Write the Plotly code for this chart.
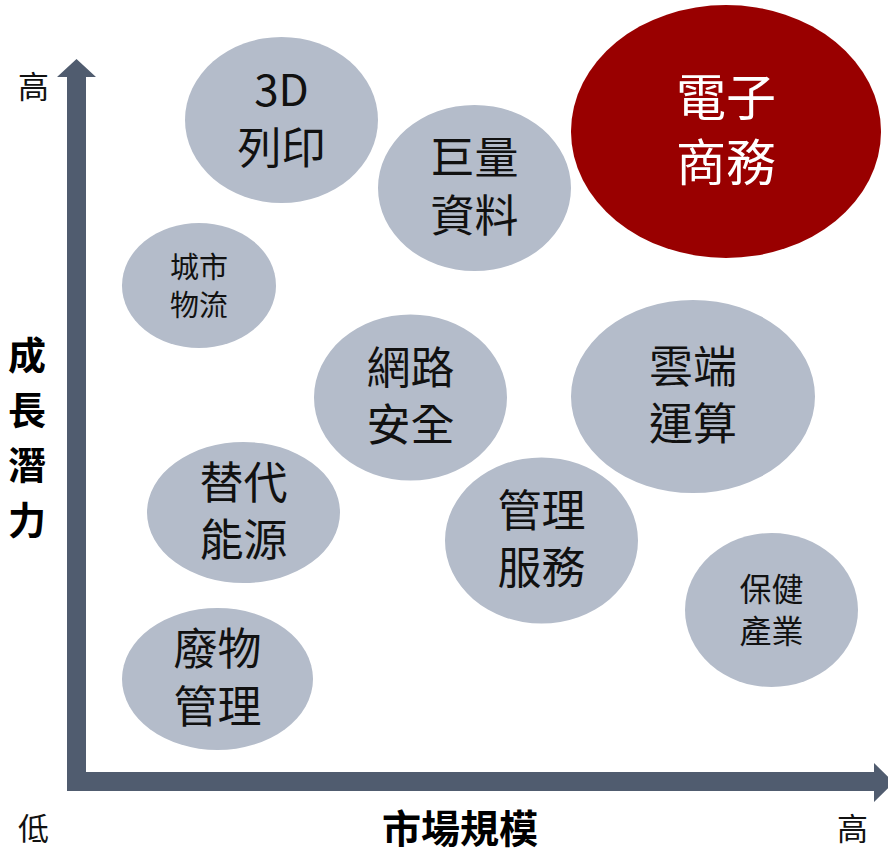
import plotly.graph_objects as go

# ---- data (market size score on x, growth potential score on y) ----
labels = ["3D<br>列印", "巨量<br>資料", "電子<br>商務", "城市<br>物流", "網路<br>安全",
          "雲端<br>運算", "替代<br>能源", "管理<br>服務", "保健<br>產業", "廢物<br>管理"]
market_size = [281.5, 474.5, 726.0, 199.0, 410.5, 693.0, 243.5, 541.5, 771.5, 217.5]
growth_potential = [728.0, 660.0, 716.5, 562.5, 450.5, 451.5, 335.5, 307.5, 238.0, 169.0]
bubble_w = [193, 193, 310, 154, 193, 244, 193, 193, 173, 191]
bubble_h = [166, 166, 253, 125, 166, 193, 141, 166, 154, 142]
highlight = [False, False, True, False, False, False, False, False, False, False]
label_size = [44, 44, 50, 29, 44, 44, 44, 44, 32, 44]

x_title = "市場規模"
y_title = "成長潛力"
low_label = "低"
high_label = "高"

FONT = "Noto Sans CJK TC, Microsoft JhengHei, sans-serif"
GRAY = "#B4BCCA"
RED = "#990000"
ARROW = "#505C6F"
TEXT_SHIFT = -4  # small downward nudge of labels inside bubbles

fig = go.Figure()

shapes = []
for x, y, w, h, hl in zip(market_size, growth_potential, bubble_w, bubble_h, highlight):
    shapes.append(dict(type="circle", xref="x", yref="y",
                       x0=x - w / 2, x1=x + w / 2, y0=y - h / 2, y1=y + h / 2,
                       fillcolor=RED if hl else GRAY, line=dict(width=0), layer="below"))

# axis arrows
shapes.append(dict(type="path", xref="x", yref="y",
                   path="M67,57 L86,57 L86,771 L96,771 L76.5,789 L57,771 L67,771 Z",
                   fillcolor=ARROW, line=dict(width=0), layer="below"))
shapes.append(dict(type="path", xref="x", yref="y",
                   path="M67,57 L874,57 L874,46 L894,65.5 L874,85 L874,76 L67,76 Z",
                   fillcolor=ARROW, line=dict(width=0), layer="below"))

for x, y, t, hl, fs in zip(market_size, growth_potential, labels, highlight, label_size):
    fig.add_trace(go.Scatter(
        x=[x], y=[y + TEXT_SHIFT], mode="text", text=[t], textposition="middle center",
        textfont=dict(family=FONT, size=fs, color="#FFFFFF" if hl else "#111111"),
        hoverinfo="skip", showlegend=False))

annotations = [
    dict(x=33, y=764, text=high_label, font=dict(size=31, family=FONT, color="#111")),
    dict(x=33, y=22, text=low_label, font=dict(size=31, family=FONT, color="#111")),
    dict(x=852, y=22, text=high_label, font=dict(size=31, family=FONT, color="#111")),
    dict(x=460, y=22, text=x_title, font=dict(size=39, family=FONT, color="#000", weight="bold")),
]
# vertical y-axis title, one character per line
for i, ch in enumerate(y_title):
    annotations.append(dict(x=27, y=496 - i * 55, text=ch,
                            font=dict(size=38, family=FONT, color="#000", weight="bold")))
for a in annotations:
    a.update(xref="x", yref="y", showarrow=False, xanchor="center", yanchor="middle")

fig.update_layout(
    width=888, height=848,
    margin=dict(l=0, r=0, t=0, b=0),
    paper_bgcolor="white", plot_bgcolor="white",
    xaxis=dict(range=[0, 888], visible=False, fixedrange=True),
    yaxis=dict(range=[0, 848], visible=False, fixedrange=True),
    shapes=shapes, annotations=annotations,
    showlegend=False,
)

fig.write_html("out.html")
